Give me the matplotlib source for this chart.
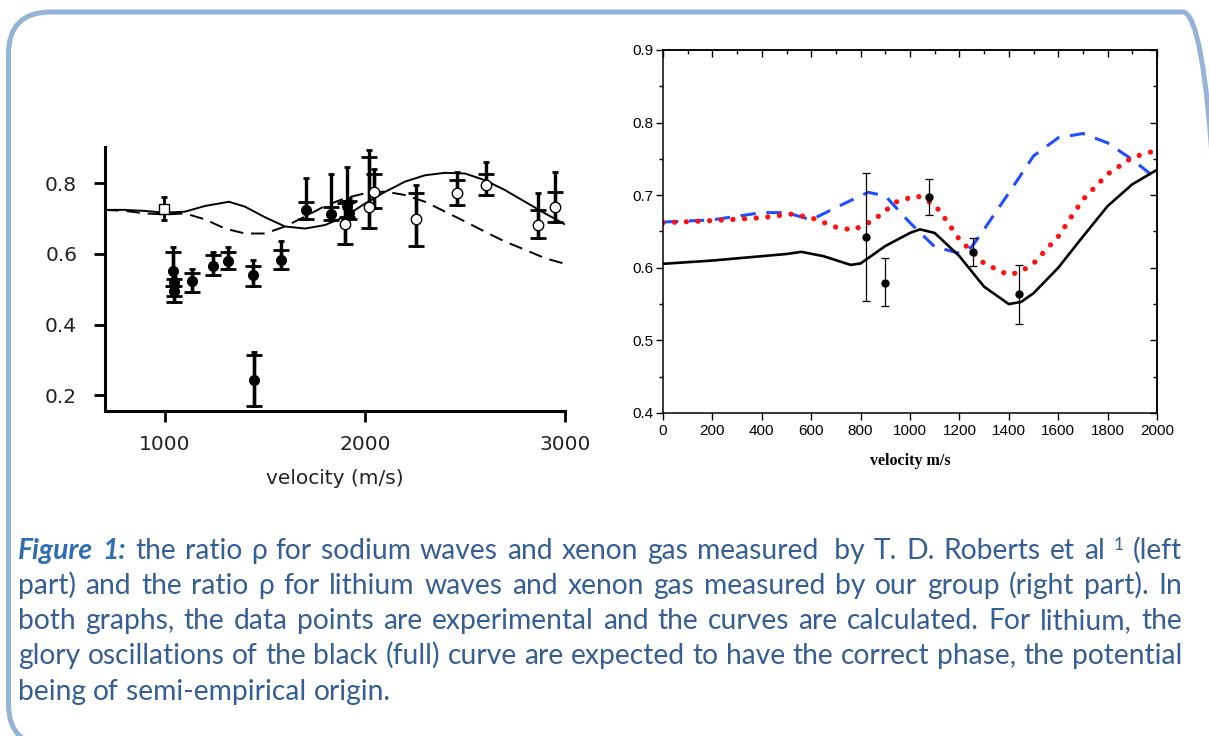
import matplotlib
matplotlib.use('Agg')
import matplotlib.pyplot as plt
from matplotlib.patches import FancyBboxPatch
from matplotlib.ticker import MultipleLocator
import numpy as np

# ---- left panel: sodium / xenon (Roberts et al) ----
x_calc_solid = [700, 800, 900, 1000, 1100, 1200, 1320, 1400, 1500, 1600, 1700, 1800,
                1900, 2000, 2100, 2200, 2300, 2400, 2500, 2600, 2700, 2800, 2900, 3000]
rho_solid = [0.725, 0.725, 0.722, 0.717, 0.720, 0.736, 0.748, 0.734, 0.704, 0.678, 0.672, 0.682,
             0.706, 0.743, 0.776, 0.805, 0.823, 0.830, 0.828, 0.809, 0.781, 0.748, 0.715, 0.684]
x_calc_dash = [700, 800, 900, 1000, 1100, 1200, 1300, 1400, 1500, 1600, 1700, 1800,
               1900, 2000, 2100, 2200, 2300, 2400, 2500, 2600, 2700, 2800, 2900, 3000]
rho_dash = [0.725, 0.722, 0.715, 0.712, 0.715, 0.698, 0.672, 0.658, 0.658, 0.678, 0.706, 0.736,
            0.758, 0.772, 0.777, 0.767, 0.748, 0.720, 0.692, 0.663, 0.635, 0.612, 0.588, 0.572]

# filled circles
na_x = [1040, 1045, 1045, 1137, 1242, 1317, 1442, 1445, 1578, 1705, 1828, 1910, 1920]
na_y = [0.551, 0.520, 0.496, 0.522, 0.567, 0.581, 0.539, 0.244, 0.584, 0.725, 0.712, 0.735, 0.715]
na_hi = [0.619, 0.535, 0.515, 0.558, 0.607, 0.619, 0.583, 0.323, 0.638, 0.816, 0.828, 0.846, 0.760]
na_mid = [0.605, 0.530, 0.510, 0.545, 0.597, 0.605, 0.566, 0.313, 0.610, 0.747, 0.733, 0.748, 0.750]
na_lo = [0.510, 0.480, 0.463, 0.493, 0.541, 0.558, 0.509, 0.170, 0.558, 0.700, 0.696, 0.705, 0.700]

# open circles
nb_x = [1900, 2020, 2045, 2255, 2459, 2607, 2866, 2952]
nb_y = [0.684, 0.733, 0.777, 0.698, 0.772, 0.795, 0.682, 0.734]
nb_hi = [0.750, 0.894, 0.842, 0.796, 0.833, 0.861, 0.772, 0.833]
nb_mid = [0.745, 0.875, 0.828, 0.773, 0.809, 0.828, 0.725, 0.776]
nb_lo = [0.629, 0.675, 0.730, 0.623, 0.739, 0.767, 0.644, 0.692]

# open square
sq_x = [995]
sq_y = [0.728]
sq_hi = [0.761]
sq_lo = [0.697]

# ---- right panel: lithium / xenon (our group) ----
x_black = [0, 200, 400, 500, 560, 650, 760, 800, 900, 1000, 1040, 1100, 1200, 1300,
           1400, 1450, 1500, 1600, 1700, 1800, 1900, 2000]
rho_black = [0.6055, 0.610, 0.616, 0.619, 0.622, 0.616, 0.604, 0.606, 0.630, 0.648, 0.653, 0.648,
             0.616, 0.574, 0.550, 0.553, 0.565, 0.600, 0.643, 0.685, 0.715, 0.735]
x_red = [0, 200, 400, 520, 600, 700, 770, 850, 950, 1030, 1100, 1150, 1200, 1300,
         1400, 1450, 1500, 1600, 1700, 1800, 1900, 2000]
rho_red = [0.662, 0.665, 0.669, 0.674, 0.669, 0.656, 0.652, 0.665, 0.692, 0.699, 0.687, 0.664,
           0.639, 0.606, 0.590, 0.595, 0.606, 0.643, 0.694, 0.729, 0.752, 0.762]
x_blue = [0, 200, 400, 500, 600, 700, 830, 900, 1000, 1100, 1200, 1250, 1300,
          1400, 1500, 1600, 1700, 1800, 1900, 2000]
rho_blue = [0.663, 0.666, 0.676, 0.676, 0.666, 0.683, 0.704, 0.699, 0.662, 0.629, 0.620, 0.629,
            0.653, 0.703, 0.754, 0.779, 0.785, 0.772, 0.749, 0.722]

li_x = [820, 900, 1075, 1255, 1440]
li_y = [0.642, 0.579, 0.698, 0.622, 0.564]
li_lo = [0.554, 0.547, 0.673, 0.602, 0.523]
li_hi = [0.731, 0.613, 0.722, 0.641, 0.604]

W, H = 1209, 736
fig = plt.figure(figsize=(W / 100, H / 100), dpi=100)


def px_rect(x0, y0, x1, y1):
    # image pixel box (top-left origin) -> figure fraction rect
    return [x0 / W, 1 - y1 / H, (x1 - x0) / W, (y1 - y0) / H]


# ---------------- left panel ----------------
axl = fig.add_axes(px_rect(105, 146.7, 565, 411))
axl.plot(x_calc_solid, rho_solid, color='black', lw=1.4)
axl.plot(x_calc_dash, rho_dash, color='black', lw=1.4, ls=(0, (7, 4)))


def err(y, lo, hi):
    y = np.array(y)
    return [y - np.array(lo), np.array(hi) - y]


for xs, ys, lo, hi, mid in [(na_x, na_y, na_lo, na_hi, na_mid), (nb_x, nb_y, nb_lo, nb_hi, nb_mid)]:
    axl.errorbar(xs, ys, yerr=err(ys, lo, hi), fmt='none', ecolor='black',
                 elinewidth=2.4, capsize=2.2, capthick=2)
    axl.errorbar(xs, ys, yerr=err(ys, lo, mid), fmt='none', ecolor='black',
                 elinewidth=2.4, capsize=5.5, capthick=2)
axl.errorbar(sq_x, sq_y, yerr=err(sq_y, sq_lo, sq_hi), fmt='none', ecolor='black',
             elinewidth=2.0, capsize=2.2, capthick=2)

axl.plot(na_x, na_y, 'o', color='black', ms=7, zorder=5)
axl.plot(nb_x, nb_y, 'o', mfc='white', mec='black', mew=1.0, ms=7.5, zorder=5)
axl.plot(sq_x, sq_y, 's', mfc='white', mec='black', mew=1.0, ms=7.5, zorder=5)

axl.set_xlim(700, 3000)
axl.set_ylim(0.155, 0.904)
axl.set_xticks([1000, 2000, 3000])
axl.set_yticks([0.2, 0.4, 0.6, 0.8])
axl.set_yticklabels(['0.2', '0.4', '0.6', '0.8'])
for s in ['top', 'right']:
    axl.spines[s].set_visible(False)
for s in ['left', 'bottom']:
    axl.spines[s].set_linewidth(2.2)
axl.tick_params(axis='x', direction='out', length=8, width=2, labelsize=14.5, pad=9)
axl.tick_params(axis='y', direction='out', length=8, width=2, labelsize=14.5, pad=12)
for lab in axl.get_xticklabels() + axl.get_yticklabels():
    lab.set_family('DejaVu Sans')
    lab.set_color('#222222')
axl.set_xlabel('velocity (m/s)', fontsize=14.5, family='DejaVu Sans', color='#222222', labelpad=11)

# ---------------- right panel ----------------
axr = fig.add_axes(px_rect(663, 50, 1157, 413))
axr.plot(x_blue, rho_blue, color='#1f4fff', lw=2.2, ls=(0, (5, 3.5)))
axr.plot(x_red, rho_red, color='#ff1010', lw=3.8, ls=(0, (0.01, 2.2)),
         dash_capstyle='round')
axr.plot(x_black, rho_black, color='black', lw=1.9)
axr.errorbar(li_x, li_y, yerr=err(li_y, li_lo, li_hi), fmt='o', color='black',
             ms=5, elinewidth=0.9, capsize=3, capthick=0.9, zorder=6)

axr.set_xlim(0, 2000)
axr.set_ylim(0.4, 0.9)
axr.xaxis.set_major_locator(MultipleLocator(200))
axr.yaxis.set_major_locator(MultipleLocator(0.1))
axr.yaxis.set_minor_locator(MultipleLocator(0.05))
axr.yaxis.set_major_formatter(matplotlib.ticker.FormatStrFormatter('%.1f'))
for s in axr.spines.values():
    s.set_linewidth(1.1)
axr.tick_params(axis='x', which='major', direction='out', length=5, width=1, labelsize=11, pad=3)
axr.tick_params(axis='y', which='major', direction='out', length=5, width=1, labelsize=11, pad=2)
axr.tick_params(axis='y', which='minor', direction='out', length=3, width=1)
for lab in axr.get_xticklabels() + axr.get_yticklabels():
    lab.set_family('Liberation Sans')

top = axr.secondary_xaxis('top')
top.xaxis.set_major_locator(MultipleLocator(200))
top.xaxis.set_minor_locator(MultipleLocator(100))
top.tick_params(which='major', direction='in', length=5, width=1, labeltop=False)
top.tick_params(which='minor', direction='in', length=3, width=1)
top.spines['top'].set_linewidth(1.1)
right = axr.secondary_yaxis('right')
right.yaxis.set_major_locator(MultipleLocator(0.1))
right.yaxis.set_minor_locator(MultipleLocator(0.05))
right.tick_params(which='major', direction='in', length=5, width=1, labelright=False)
right.tick_params(which='minor', direction='in', length=3, width=1)
right.spines['right'].set_linewidth(1.1)

axr.set_xlabel('velocity m/s', fontsize=11.5, family='Liberation Serif',
               fontweight='bold', labelpad=11)

# ---------------- frame ----------------
frame = FancyBboxPatch((0.085, -0.10), 12.16, 7.34,
                       boxstyle='round,pad=0,rounding_size=0.42',
                       transform=fig.dpi_scale_trans, fill=False,
                       edgecolor='#95B3D7', linewidth=3.6, zorder=0)
fig.add_artist(frame)

# ---------------- caption (justified) ----------------
body_col = '#345E96'
fig_col = '#2F6DB5'
fam = ['Lato', 'DejaVu Sans']

caption_lines = [
    [('Figure', 'b'), ('1:', 'b'), ('the', 'n'), ('ratio', 'n'), ('\u03c1', 'n'), ('for', 'n'),
     ('sodium', 'n'), ('waves', 'n'), ('and', 'n'), ('xenon', 'n'), ('gas', 'n'), ('measured', 'n'),
     (' by', 'n'), ('T.', 'n'), ('D.', 'n'), ('Roberts', 'n'), ('et', 'n'), ('al', 'n'),
     ('1', 's'), ('(left', 'n')],
    [(w, 'n') for w in 'part) and the ratio \u03c1 for lithium waves and xenon gas measured by our group (right part). In'.split()],
    [(w, 'n') for w in 'both graphs, the data points are experimental and the curves are calculated. For lithium, the'.split()],
    [(w, 'n') for w in 'glory oscillations of the black (full) curve are expected to have the correct phase, the potential'.split()],
    [(w, 'n') for w in 'being of semi-empirical origin.'.split()],
]
baselines = [559, 594, 629, 664, 700]
x_left, x_right = 18, 1182

renderer = fig.canvas.get_renderer()


def make_word(word, style, size):
    kw = dict(fontsize=size, family=fam, color=body_col, va='baseline', ha='left')
    if style == 'b':
        kw.update(fontweight='bold', fontstyle='italic', color=fig_col)
    if style == 's':
        kw.update(fontsize=size * 0.62)
    return fig.text(0, 0, word, **kw)


def measure(size):
    a = fig.text(0, 0, 'n n', fontsize=size, family=fam)
    b = fig.text(0, 0, 'nn', fontsize=size, family=fam)
    sp = a.get_window_extent(renderer).width - b.get_window_extent(renderer).width
    a.remove()
    b.remove()
    return sp


# pick a font size so the widest line fits naturally
base = 17.0
sp0 = measure(base)
widest = 0
for line in caption_lines:
    ts = [make_word(w, s, base) for w, s in line]
    tot = sum(t.get_window_extent(renderer).width for t in ts) + sp0 * (len(ts) - 1)
    widest = max(widest, tot)
    for t in ts:
        t.remove()
size = base * (x_right - x_left - 6) / widest
sp = measure(size)

for i, line in enumerate(caption_lines):
    ts = [make_word(w, s, size) for w, s in line]
    ws = [t.get_window_extent(renderer).width for t in ts]
    last = i == len(caption_lines) - 1
    gap = sp if last else (x_right - x_left - sum(ws)) / (len(ts) - 1)
    x = x_left
    yb = baselines[i]
    for t, w, (word, style) in zip(ts, ws, line):
        yy = yb - (9 if style == 's' else 0)
        t.set_position((x / W, 1 - yy / H))
        x += w + gap

fig.savefig('out.png', dpi=100)
